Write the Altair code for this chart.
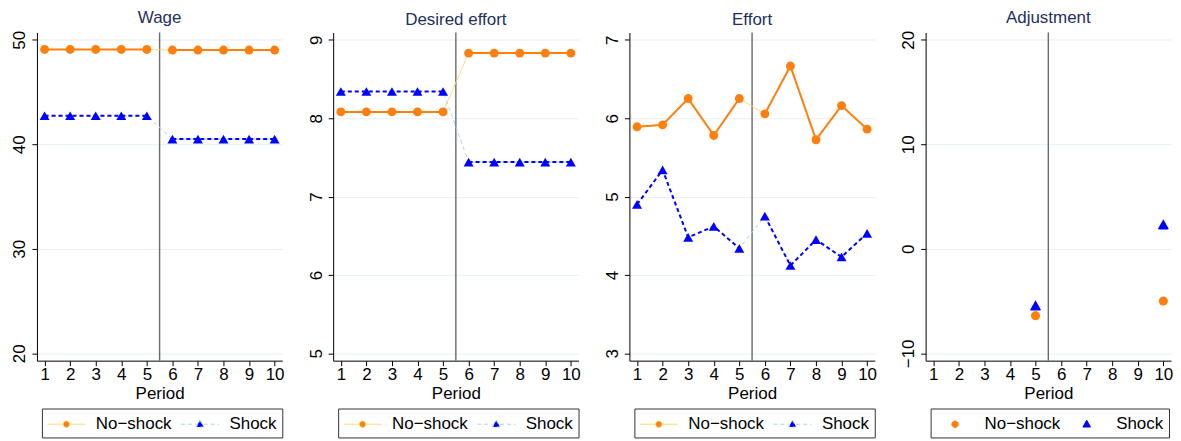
import altair as alt
import pandas as pd

FONT = "Liberation Sans"

periods = [1, 2, 3, 4, 5, 6, 7, 8, 9, 10]
groups = ["No\u2212shock", "Shock"]
shock_line = [5.5]

wage_noshock = [49.08, 49.08, 49.08, 49.08, 49.08, 49.02, 49.02, 49.02, 49.02, 49.02]
wage_shock = [42.73, 42.73, 42.73, 42.73, 42.73, 40.50, 40.50, 40.50, 40.50, 40.50]

desired_noshock = [8.08, 8.08, 8.08, 8.08, 8.08, 8.83, 8.83, 8.83, 8.83, 8.83]
desired_shock = [8.34, 8.34, 8.34, 8.34, 8.34, 7.44, 7.44, 7.44, 7.44, 7.44]

effort_noshock = [5.89, 5.915, 6.25, 5.78, 6.25, 6.055, 6.665, 5.725, 6.16, 5.86]
effort_shock = [4.90, 5.34, 4.48, 4.62, 4.34, 4.75, 4.12, 4.45, 4.23, 4.53]

adj_periods = [5, 10]
adj_noshock = [-6.4, -5.0]
adj_shock = [-5.5, 2.26]

wage_ticks = [20, 30, 40, 50]
desired_ticks = [5, 6, 7, 8, 9]
effort_ticks = [3, 4, 5, 6, 7]
adj_ticks = [-10, 0, 10, 20]

DARK = ["#ff7f0e", "#0000ff"]
LIGHT = ["#ffd46e", "#a8d6ef"]
DASH = [[1, 0], [4, 3]]

LINE_SYMBOLS = [
    "M-1.9,0L-0.32,0M0.32,0L1.9,0M0.32,0A0.32,0.32,0,1,1,-0.32,0A0.32,0.32,0,1,1,0.32,0Z",
    "M-1.9,0L-0.38,0M0.38,0L1.9,0M0,-0.4L0.38,0.28L-0.38,0.28Z",
]
DOT_SYMBOLS = [
    "M0.32,0A0.32,0.32,0,1,1,-0.32,0A0.32,0.32,0,1,1,0.32,0Z",
    "M0,-0.4L0.38,0.28L-0.38,0.28Z",
]


def make_df(xs, a, b):
    rows = []
    for g, vals in zip(groups, [a, b]):
        for p, v in zip(xs, vals):
            rows.append({"period": p, "value": v, "group": g,
                         "phase": "pre" if p <= 5 else "post"})
    return pd.DataFrame(rows)


def legend_obj():
    return alt.Legend(
        title=None, orient="none", legendX=5, legendY=377,
        direction="horizontal", columns=2, strokeColor="#333333",
        fillColor="white", padding=5, columnPadding=6, labelOffset=19,
        symbolOffset=9, labelFontSize=17, labelFont=FONT, labelColor="black",
        symbolSize=400, symbolStrokeWidth=1, symbolOpacity=1,
    )


def panel(title, df, ticks, ydom, with_lines=True):
    x = alt.X("period:Q",
              scale=alt.Scale(domain=[0.7, 10.3], nice=False, zero=False),
              axis=alt.Axis(values=periods, title="Period", grid=False,
                            format="d", labelFontSize=17, titleFontSize=17,
                            labelFont=FONT, titleFont=FONT,
                            titleFontWeight="normal", tickSize=5,
                            labelPadding=1, titlePadding=3,
                            domainColor="black", tickColor="black",
                            labelColor="black", titleColor="black",
                            labelFlush=False, labelOverlap=False))
    y = alt.Y("value:Q",
              scale=alt.Scale(domain=ydom, nice=False, zero=False),
              axis=alt.Axis(values=ticks, title=None, grid=True,
                            gridColor="#e8f0f1", labelAngle=270,
                            labelAlign="center", labelBaseline="alphabetic",
                            labelPadding=7, tickSize=5, minExtent=29,
                            maxExtent=29, labelFontSize=17, labelFont=FONT,
                            domainColor="black", tickColor="black",
                            labelColor="black", labelFlush=False,
                            labelOverlap=False))
    stroke_scale = alt.Scale(domain=groups, range=LIGHT if with_lines else DARK)
    dash_scale = alt.Scale(domain=groups, range=DASH)
    fill_scale = alt.Scale(domain=groups, range=DARK)
    color_scale = alt.Scale(domain=groups, range=DARK)
    shape_scale = alt.Scale(domain=groups,
                            range=LINE_SYMBOLS if with_lines else DOT_SYMBOLS)

    base = alt.Chart(df)
    vrule = alt.Chart(pd.DataFrame({"period": shock_line})).mark_rule(
        color="#6a6a6a", strokeWidth=1.4).encode(x=x)

    layers = [vrule]

    leg_enc = dict(
        x=x, y=y,
        fill=alt.Fill("group:N", scale=fill_scale, legend=legend_obj()),
        shape=alt.Shape("group:N", scale=shape_scale, legend=legend_obj()),
        stroke=alt.Stroke("group:N", scale=stroke_scale, legend=legend_obj()),
    )
    if with_lines:
        leg_enc["strokeDash"] = alt.StrokeDash("group:N", scale=dash_scale, legend=legend_obj())
        leg = base.transform_filter("false").mark_point(
            filled=True, size=400, opacity=1).encode(**leg_enc)
    else:
        leg = base.mark_point(filled=True, size=400, opacity=1).encode(**leg_enc)

    if with_lines:
        thin = base.mark_line(strokeWidth=1).encode(
            x=x, y=y,
            stroke=alt.Stroke("group:N", scale=stroke_scale, legend=legend_obj()),
            strokeDash=alt.StrokeDash("group:N", scale=dash_scale, legend=legend_obj()),
        )
        thick = base.mark_line(strokeWidth=2).encode(
            x=x, y=y,
            color=alt.Color("group:N", scale=color_scale, legend=None),
            strokeDash=alt.StrokeDash("group:N", scale=dash_scale, legend=legend_obj()),
            detail="phase:N",
        )
        layers += [thin, thick, leg]
    else:
        layers += [leg]

    circles = base.transform_filter(alt.datum.group == groups[0]).mark_point(
        filled=True, shape="circle", size=80, opacity=1).encode(
        x=x, y=y, color=alt.Color("group:N", scale=color_scale, legend=None))
    tris = base.transform_filter(alt.datum.group == groups[1]).mark_point(
        filled=True, shape="triangle-up", size=100, opacity=1).encode(
        x=x, y=y, color=alt.Color("group:N", scale=color_scale, legend=None))
    layers += [circles, tris]

    return alt.layer(*layers).properties(
        width=246, height=329,
        title=alt.TitleParams(title, fontSize=17, font=FONT, color="#1f2f5c",
                              fontWeight="normal", offset=-14,
                              baseline="bottom", frame="group",
                              anchor="middle"),
    )


p1 = panel("Wage", make_df(periods, wage_noshock, wage_shock), wage_ticks, [19.3, 50.7])
p2 = panel("Desired effort", make_df(periods, desired_noshock, desired_shock), desired_ticks, [4.907, 9.093])
p3 = panel("Effort", make_df(periods, effort_noshock, effort_shock), effort_ticks, [2.907, 7.093])
p4 = panel("Adjustment", make_df(adj_periods, adj_noshock, adj_shock), adj_ticks, [-10.7, 20.7], with_lines=False)

chart = alt.hconcat(p1, p2, p3, p4, spacing=20).resolve_scale(
    color="independent", fill="independent", stroke="independent",
    shape="independent", strokeDash="independent",
).resolve_legend(
    fill="independent", stroke="independent", shape="independent",
    strokeDash="independent",
).configure(padding=0, background="white").configure_view(stroke=None)

chart.save("out.html", embed_options={"renderer": "svg", "actions": False})
